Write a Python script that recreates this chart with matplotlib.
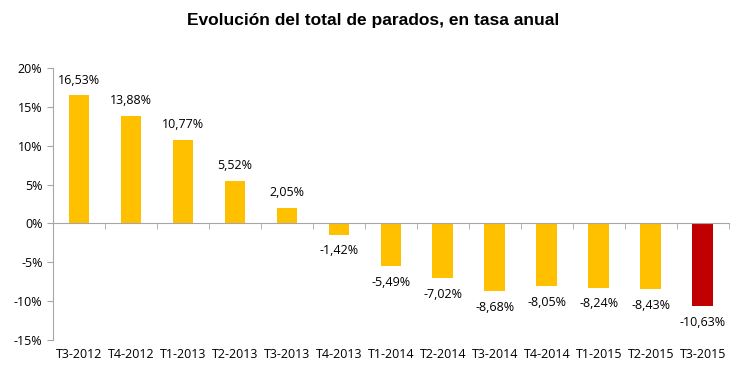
import matplotlib
matplotlib.use("Agg")
import matplotlib.pyplot as plt
import numpy as np

categories = ["T3-2012", "T4-2012", "T1-2013", "T2-2013", "T3-2013", "T4-2013", "T1-2014",
              "T2-2014", "T3-2014", "T4-2014", "T1-2015", "T2-2015", "T3-2015"]
values = [16.53, 13.88, 10.77, 5.52, 2.05, -1.42, -5.49, -7.02, -8.68, -8.05, -8.24, -8.43, -10.63]
yticks = [-15, -10, -5, 0, 5, 10, 15, 20]

yellow = "#FFC000"
red = "#C00000"
gray = "#A6A6A6"
font = "Open Sans"

fig = plt.figure(figsize=(7.46, 3.80), dpi=100)
ax = fig.add_axes([0.071, 0.105, 0.906, 0.716])

x = np.arange(len(categories))
colors = [yellow] * (len(values) - 1) + [red]
ax.bar(x, values, width=0.4, color=colors, zorder=2)

for xi, v in zip(x, values):
    lbl = f"{v:.2f}%".replace(".", ",")
    if v >= 0:
        ax.annotate(lbl, (xi, v), xytext=(0, 6), textcoords="offset points",
                    ha="center", va="bottom", fontsize=9, family=font)
    else:
        ax.annotate(lbl, (xi, v), xytext=(0, -7), textcoords="offset points",
                    ha="center", va="top", fontsize=9, family=font)

ax.set_xlim(-0.5, len(categories) - 0.5)
ax.set_ylim(-15, 20)
ax.set_yticks(yticks)
ax.set_yticklabels([f"{t}%" for t in yticks], fontsize=9, family=font)

for s in ["top", "right"]:
    ax.spines[s].set_visible(False)
ax.spines["left"].set_color(gray)
ax.spines["bottom"].set_color(gray)
ax.spines["bottom"].set_position(("data", 0))
ax.tick_params(axis="y", colors=gray, labelcolor="black", length=4, width=0.8)

ax.set_xticks([])
ax.set_xticks(np.arange(-0.5, len(categories) + 0.5, 1), minor=True)
ax.tick_params(axis="x", which="minor", length=4, color=gray, direction="out")

sec = ax.secondary_xaxis(0.0)
sec.set_xticks(x)
sec.set_xticklabels(categories, fontsize=9, family=font)
sec.tick_params(length=0, pad=6)
sec.spines["bottom"].set_visible(False)

fig.text(0.5, 0.945, "Evolución del total de parados, en tasa anual",
         ha="center", va="center", fontsize=12.5, fontweight="bold", family="Liberation Sans")

fig.savefig("out.png", dpi=100)
